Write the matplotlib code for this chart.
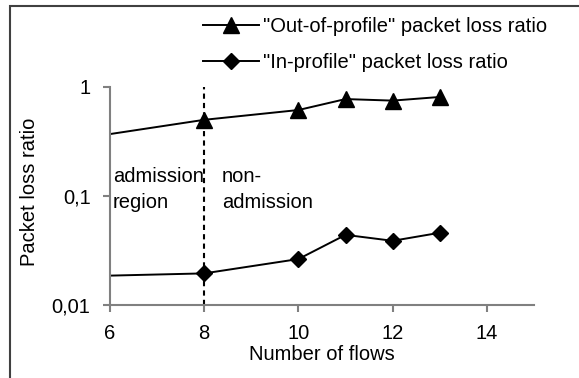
import matplotlib
matplotlib.use("Agg")
import matplotlib.pyplot as plt
from matplotlib.patches import Rectangle
from matplotlib.ticker import FixedLocator, FixedFormatter, NullLocator

plt.rcParams['font.family'] = ['Liberation Sans', 'DejaVu Sans']

# datos
flows = [6, 8, 10, 11, 12, 13]
out_profile = [0.37, 0.50, 0.615, 0.775, 0.75, 0.81]
in_profile = [0.0186, 0.0195, 0.0264, 0.0440, 0.0388, 0.0460]
y_ticks = [0.01, 0.1, 1]
y_tick_labels = ['0,01', '0,1', '1']
x_ticks = [6, 8, 10, 12, 14]

fs = 14.5

fig = plt.figure(figsize=(5.79, 3.78), dpi=100)
ax = fig.add_axes([110 / 579, 1 - 305 / 378, (534 - 110) / 579, (305 - 87) / 378])

ax.plot(flows, out_profile, color='black', lw=1.4, marker='^', ms=11,
        markevery=[1, 2, 3, 4, 5], label='"Out-of-profile" packet loss ratio')
ax.plot(flows, in_profile, color='black', lw=1.4, marker='D', ms=8.5,
        markevery=[1, 2, 3, 4, 5], label='"In-profile" packet loss ratio')

# separacion admision / no admision
ax.plot([8, 8], [0.01, 1], color='black', lw=1.5, ls=(0, (2.5, 2)))

ax.set_yscale('log')
ax.set_xlim(6, 15)
ax.set_ylim(0.01, 1)
ax.yaxis.set_major_locator(FixedLocator(y_ticks))
ax.yaxis.set_major_formatter(FixedFormatter(y_tick_labels))
ax.yaxis.set_minor_locator(NullLocator())
ax.set_xticks(x_ticks)

for side in ['top', 'right']:
    ax.spines[side].set_visible(False)
for side in ['left', 'bottom']:
    ax.spines[side].set_color('#808080')
    ax.spines[side].set_linewidth(1.5)
ax.tick_params(colors='#808080', width=1.5, length=5, labelcolor='black', labelsize=fs)
ax.tick_params(axis='x', pad=9)
ax.tick_params(axis='y', pad=9)

ax.text(6.06, 0.134, 'admission', fontsize=fs, va='baseline', ha='left')
ax.text(6.06, 0.0784, 'region', fontsize=fs, va='baseline', ha='left')
ax.text(8.37, 0.134, 'non-', fontsize=fs, va='baseline', ha='left')
ax.text(8.37, 0.0784, 'admission', fontsize=fs, va='baseline', ha='left')

ax.set_xlabel('Number of flows', fontsize=fs)
ax.xaxis.set_label_coords(0.5, (305 - 360) / 218)
ax.xaxis.label.set_va('baseline')
ax.set_ylabel('Packet loss ratio', fontsize=fs)
ax.yaxis.set_label_coords((30 - 110) / 424, (305 - 192) / 218)
ax.yaxis.label.set_va('center')

ax.legend(loc='upper left', bbox_to_anchor=(203 / 579, 1 - 17 / 378), bbox_transform=fig.transFigure,
          frameon=False, fontsize=fs, handlelength=2.8, handletextpad=0.2,
          labelspacing=0.85, borderpad=0, borderaxespad=0)

# marco de la figura
fig.patches.append(Rectangle((10 / 579, -0.1), 1.2, 1 - 6 / 378 + 0.1, transform=fig.transFigure,
                             fill=False, edgecolor='#404040', lw=1.5))

fig.savefig('out.png', dpi=100)
